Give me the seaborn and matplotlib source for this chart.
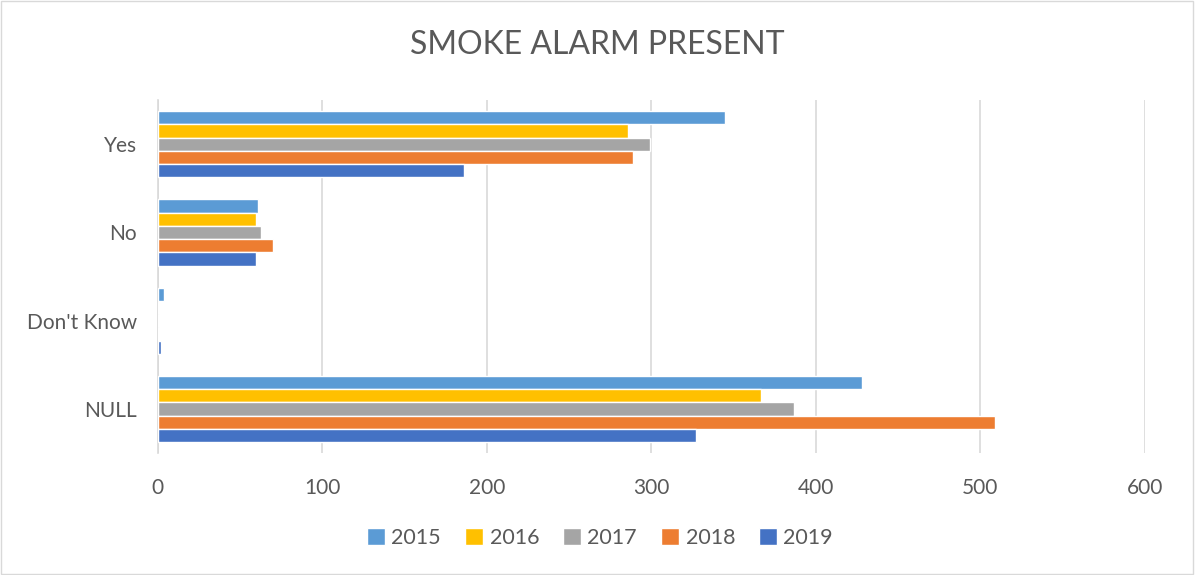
import matplotlib
matplotlib.use("Agg")
import matplotlib.pyplot as plt
import seaborn as sns
import pandas as pd

# --------- dados
categories = ["Yes", "No", "Don't Know", "NULL"]
years = ["2015", "2016", "2017", "2018", "2019"]
v2015 = [345, 61, 4, 428]
v2016 = [286, 60, 0, 367]
v2017 = [299, 63, 1, 387]
v2018 = [289, 70, 0, 509]
v2019 = [186, 60, 2, 327]
colors = ["#5B9BD5", "#FFC000", "#A5A5A5", "#ED7D31", "#4472C4"]

series = [v2015, v2016, v2017, v2018, v2019]
rows = []
for year, vals in zip(years, series):
    for cat, v in zip(categories, vals):
        rows.append({"category": cat, "year": year, "count": v})
df = pd.DataFrame(rows)

sns.set_style("white")
plt.rcParams["font.family"] = ["Lato", "DejaVu Sans"]
text_color = "#595959"

fig = plt.figure(figsize=(11.95, 5.75), dpi=100)
ax = fig.add_axes([0.132, 0.212, 0.826, 0.614])

sns.barplot(data=df, y="category", x="count", hue="year", order=categories,
            hue_order=years, palette=colors, orient="h", width=0.75, gap=0,
            saturation=1, ax=ax)

ax.set_xlim(0, 600)
ax.set_xticks(range(0, 601, 100))
ax.grid(axis="x", color="#D9D9D9", linewidth=1.2)
ax.set_axisbelow(True)
for s in ["top", "right", "bottom"]:
    ax.spines[s].set_visible(False)
ax.spines["left"].set_color("#D9D9D9")
ax.spines["left"].set_linewidth(1.2)
ax.spines["left"].set_zorder(0.5)
ax.tick_params(axis="both", length=0, labelsize=15, labelcolor=text_color)
ax.tick_params(axis="x", pad=18)
ax.tick_params(axis="y", pad=15)
ax.set_xlabel("")
ax.set_ylabel("")

fig.text(0.5, 0.922, "SMOKE ALARM PRESENT", ha="center", va="center",
         fontsize=23, color=text_color)

handles, labels = ax.get_legend_handles_labels()
ax.legend_.remove()
fig.legend(handles, labels, loc="center", bbox_to_anchor=(0.502, 0.064), ncol=5,
           frameon=False, fontsize=15.5, labelcolor=text_color,
           handlelength=0.85, handleheight=0.85, handletextpad=0.3, columnspacing=1.1)

# borda do gráfico
fig.patches.append(plt.Rectangle((0.001, 0.002), 0.997, 0.996, transform=fig.transFigure,
                                 fill=False, edgecolor="#D9D9D9", linewidth=1))

fig.savefig("out.png", dpi=100)
